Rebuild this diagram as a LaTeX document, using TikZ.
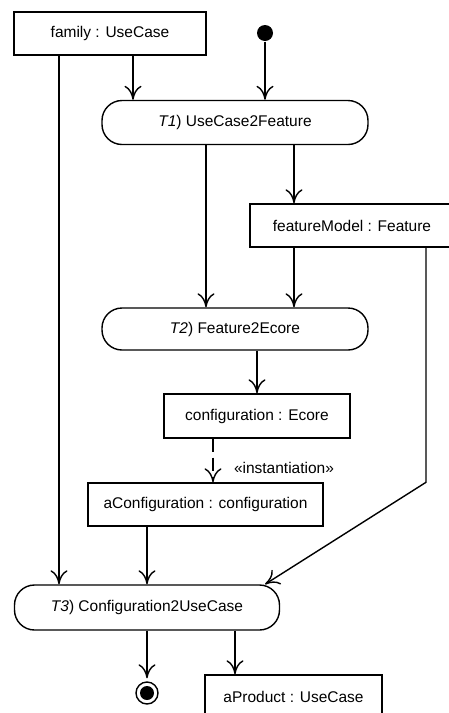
\documentclass[tikz,border=0pt]{standalone}
\usepackage{fontspec}
\setmainfont{Liberation Sans}
\usepackage{tikz}
\usetikzlibrary{arrows.meta, positioning}

\begin{document}
\begin{tikzpicture}[x=1pt, y=-1pt,
    font=\fontsize{15.5}{18}\selectfont,
    every path/.style={line width=1.4pt},
    objbox/.style={draw, rectangle, minimum height=43pt, inner sep=0pt, line width=1.4pt},
    actbox/.style={draw, rectangle, rounded corners=20pt, minimum height=44pt, minimum width=266pt, inner sep=0pt, line width=1.4pt},
    flow/.style={-{Computer Modern Rightarrow[length=14pt, width=17pt, line width=1.4pt]}},
    startnode/.style={circle, fill=black, minimum size=16pt, inner sep=0pt},
    endnode/.style={circle, draw, line width=1.4pt, minimum size=22pt, inner sep=0pt,
        path picture={\fill (path picture bounding box.center) circle (7pt);}}]
    \useasboundingbox (0,0) rectangle (448,713);

    % Objects and actions
    \node[objbox, minimum width=192pt] (family) at (110,33.5) {family : UseCase};
    \node[startnode] (start) at (265,33) {};
    \node[actbox] (t1) at (235,122.5) {\textit{T1}) UseCase2Feature};
    \node[objbox, minimum width=204pt] (fm) at (352,225.5) {featureModel : Feature};
    \node[actbox, minimum height=42pt] (t2) at (235,329) {\textit{T2}) Feature2Ecore};
    \node[objbox, minimum width=186pt, minimum height=44pt] (conf) at (257,416) {configuration : Ecore};
    \node[objbox, minimum width=235pt] (aconf) at (205.5,504.5) {aConfiguration : configuration};
    \node[actbox, minimum width=265pt, minimum height=45pt] (t3) at (147,607.5) {\textit{T3}) Configuration2UseCase};
    \node[endnode] (final) at (147,693) {};
    \node[objbox, minimum width=177pt] (aprod) at (293.5,696.5) {aProduct : UseCase};

    % Flows
    \draw[flow] ([xshift=23pt]family.south) -- ([xshift=23pt]family.south |- t1.north);
    \draw[flow] (start) -- (start |- t1.north);
    \draw[flow] ([xshift=-51pt]family.south) -- ([xshift=-51pt]family.south |- t3.north);
    \draw[flow] ([xshift=-29pt]t1.south) -- ([xshift=-29pt]t1.south |- t2.north);
    \draw[flow] ([xshift=59pt]t1.south) -- ([xshift=59pt]t1.south |- fm.north);
    \draw[flow] ([xshift=59pt]t1.south |- fm.south) -- ([xshift=59pt]t1.south |- t2.north);
    \draw[flow] ([xshift=74pt]fm.south) -- ([xshift=74pt]fm.south |- aconf.north) -- ([xshift=118pt]t3.north);
    \draw[flow] (t2.south -| conf.north) -- (conf.north);
    \draw[flow, dashed, dash pattern=on 13pt off 6pt, line width=2pt] ([xshift=-44pt]conf.south) -- ([xshift=-44pt]conf.south |- aconf.north)
        node[pos=0.67, right=20pt, inner sep=0pt] {«instantiation»};
    \draw[flow] (aconf.south -| t3.north) -- (t3.north);
    \draw[flow, shorten >=3pt] (t3.south -| final) -- (final.north);
    \draw[flow] ([xshift=88pt]t3.south) -- ([xshift=88pt]t3.south |- aprod.north);
\end{tikzpicture}
\end{document}
